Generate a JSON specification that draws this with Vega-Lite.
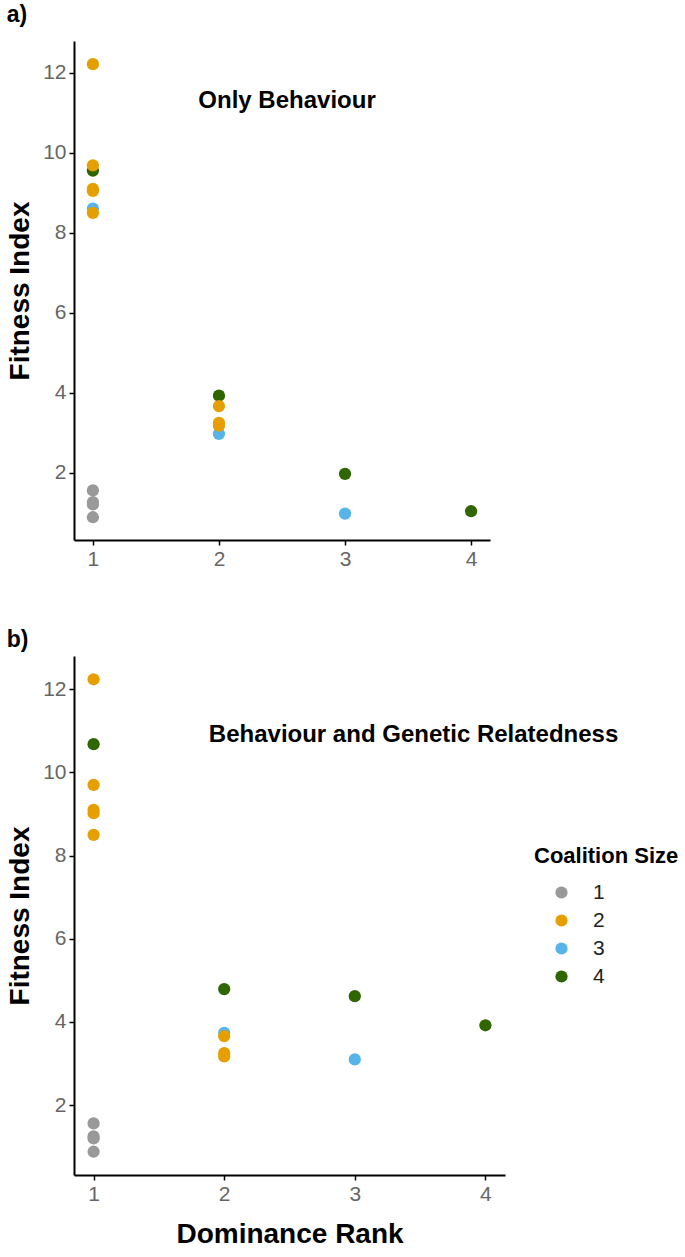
{
  "$schema": "https://vega.github.io/schema/vega-lite/v6.json",
  "background": "white",
  "padding": {"left": 6, "top": 4, "right": 2, "bottom": 2},
  "spacing": 60,
  "config": {
    "view": {"stroke": null},
    "font": "Liberation Sans",
    "axis": {
      "domainColor": "black", "domainWidth": 2,
      "tickColor": "black", "tickWidth": 1.5, "tickSize": 5,
      "labelColor": "#666666", "labelFontSize": 21, "labelFont": "Liberation Sans", "labelPadding": 3,
      "titleFont": "Liberation Sans", "titleFontSize": 28, "titleFontWeight": "bold", "titleColor": "black",
      "grid": false
    },
    "title": {"font": "Liberation Sans", "fontSize": 23, "fontWeight": "bold", "color": "black", "anchor": "start", "frame": "bounds"}
  },
  "datasets": {
    "points": [
      {"panel": "a", "rank": 1, "fitness": 1.56, "size": 1},
      {"panel": "a", "rank": 1, "fitness": 1.27, "size": 1},
      {"panel": "a", "rank": 1, "fitness": 1.21, "size": 1},
      {"panel": "a", "rank": 1, "fitness": 0.89, "size": 1},
      {"panel": "a", "rank": 1, "fitness": 8.61, "size": 3},
      {"panel": "a", "rank": 2, "fitness": 2.975, "size": 3},
      {"panel": "a", "rank": 3, "fitness": 0.98, "size": 3},
      {"panel": "a", "rank": 1, "fitness": 9.56, "size": 4},
      {"panel": "a", "rank": 2, "fitness": 3.93, "size": 4},
      {"panel": "a", "rank": 3, "fitness": 1.975, "size": 4},
      {"panel": "a", "rank": 4, "fitness": 1.04, "size": 4},
      {"panel": "a", "rank": 1, "fitness": 12.22, "size": 2},
      {"panel": "a", "rank": 1, "fitness": 9.69, "size": 2},
      {"panel": "a", "rank": 1, "fitness": 9.1, "size": 2},
      {"panel": "a", "rank": 1, "fitness": 9.05, "size": 2},
      {"panel": "a", "rank": 1, "fitness": 8.5, "size": 2},
      {"panel": "a", "rank": 2, "fitness": 3.67, "size": 2},
      {"panel": "a", "rank": 2, "fitness": 3.25, "size": 2},
      {"panel": "a", "rank": 2, "fitness": 3.18, "size": 2},
      {"panel": "b", "rank": 1, "fitness": 1.56, "size": 1},
      {"panel": "b", "rank": 1, "fitness": 1.25, "size": 1},
      {"panel": "b", "rank": 1, "fitness": 1.2, "size": 1},
      {"panel": "b", "rank": 1, "fitness": 0.88, "size": 1},
      {"panel": "b", "rank": 2, "fitness": 3.74, "size": 3},
      {"panel": "b", "rank": 3, "fitness": 3.1, "size": 3},
      {"panel": "b", "rank": 1, "fitness": 10.68, "size": 4},
      {"panel": "b", "rank": 2, "fitness": 4.79, "size": 4},
      {"panel": "b", "rank": 3, "fitness": 4.62, "size": 4},
      {"panel": "b", "rank": 4, "fitness": 3.92, "size": 4},
      {"panel": "b", "rank": 1, "fitness": 12.24, "size": 2},
      {"panel": "b", "rank": 1, "fitness": 9.7, "size": 2},
      {"panel": "b", "rank": 1, "fitness": 9.1, "size": 2},
      {"panel": "b", "rank": 1, "fitness": 9.02, "size": 2},
      {"panel": "b", "rank": 1, "fitness": 8.5, "size": 2},
      {"panel": "b", "rank": 2, "fitness": 3.66, "size": 2},
      {"panel": "b", "rank": 2, "fitness": 3.25, "size": 2},
      {"panel": "b", "rank": 2, "fitness": 3.17, "size": 2}
    ],
    "notes": [
      {"panel": "a", "rank": 2.54, "fitness": 11.3, "label": "Only Behaviour"},
      {"panel": "b", "rank": 3.45, "fitness": 10.9, "label": "Behaviour and Genetic Relatedness"}
    ]
  },
  "vconcat": [
    {
      "width": 416, "height": 499,
      "title": {"text": "a)", "offset": 14},
      "layer": [
        {
          "data": {"name": "points"},
          "transform": [{"filter": "datum.panel == 'a'"}],
          "mark": {"type": "circle", "size": 150, "opacity": 1},
          "encoding": {
            "x": {"field": "rank", "type": "quantitative", "scale": {"domain": [0.85, 4.15], "nice": false, "zero": false}, "axis": {"values": [1, 2, 3, 4], "format": "d", "title": null}},
            "y": {"field": "fitness", "type": "quantitative", "scale": {"domain": [0.32, 12.8], "nice": false, "zero": false}, "axis": {"values": [2, 4, 6, 8, 10, 12], "title": "Fitness Index", "titlePadding": 8}},
            "color": {"field": "size", "type": "nominal", "scale": {"domain": [1, 2, 3, 4], "range": ["#999999", "#E69F00", "#56B4E9", "#2F6600"]}, "legend": null}
          }
        },
        {
          "data": {"name": "notes"},
          "transform": [{"filter": "datum.panel == 'a'"}],
          "mark": {"type": "text", "fontSize": 24, "fontWeight": "bold", "color": "black", "font": "Liberation Sans"},
          "encoding": {
            "x": {"field": "rank", "type": "quantitative"},
            "y": {"field": "fitness", "type": "quantitative"},
            "text": {"field": "label"}
          }
        }
      ]
    },
    {
      "width": 431, "height": 519,
      "title": {"text": "b)", "offset": 4},
      "layer": [
        {
          "data": {"name": "points"},
          "transform": [{"filter": "datum.panel == 'b'"}],
          "mark": {"type": "circle", "size": 150, "opacity": 1},
          "encoding": {
            "x": {"field": "rank", "type": "quantitative", "scale": {"domain": [0.85, 4.15], "nice": false, "zero": false}, "axis": {"values": [1, 2, 3, 4], "format": "d", "title": "Dominance Rank", "titlePadding": 16}},
            "y": {"field": "fitness", "type": "quantitative", "scale": {"domain": [0.32, 12.8], "nice": false, "zero": false}, "axis": {"values": [2, 4, 6, 8, 10, 12], "title": "Fitness Index", "titlePadding": 8}},
            "color": {"field": "size", "type": "nominal", "scale": {"domain": [1, 2, 3, 4], "range": ["#999999", "#E69F00", "#56B4E9", "#2F6600"]},
              "legend": {"orient": "none", "legendX": 460, "legendY": 190, "title": "Coalition Size", "titleFontSize": 22, "titleFontWeight": "bold", "titleColor": "black", "titleFont": "Liberation Sans", "labelFont": "Liberation Sans", "labelFontSize": 21, "labelColor": "#222222", "symbolType": "circle", "symbolSize": 150, "symbolOffset": 17, "labelOffset": 21, "rowPadding": 6, "titlePadding": 14, "symbolStrokeWidth": 0, "symbolOpacity": 1}}
          }
        },
        {
          "data": {"name": "notes"},
          "transform": [{"filter": "datum.panel == 'b'"}],
          "mark": {"type": "text", "fontSize": 24, "fontWeight": "bold", "color": "black", "font": "Liberation Sans"},
          "encoding": {
            "x": {"field": "rank", "type": "quantitative"},
            "y": {"field": "fitness", "type": "quantitative"},
            "text": {"field": "label"}
          }
        }
      ]
    }
  ],
  "resolve": {"scale": {"color": "independent"}, "legend": {"color": "independent"}}
}
